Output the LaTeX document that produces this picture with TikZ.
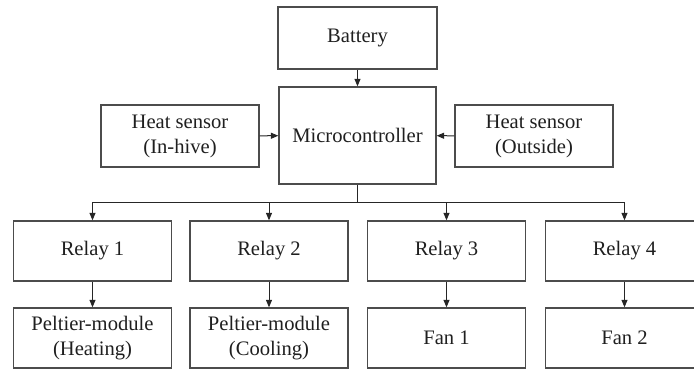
\documentclass[tikz,border=0pt]{standalone}
\usepackage{fontspec}
\setmainfont{Liberation Serif}
\usetikzlibrary{arrows.meta}
\begin{document}
\begin{tikzpicture}[x=1pt,y=-1pt,
  box/.style={draw=black!70, line width=1.3pt, inner sep=0pt, align=center,
    text=black!88, font=\fontsize{20.6}{25}\selectfont},
  wide/.style={box, minimum width=158pt, minimum height=61pt},
  conn/.style={draw=black!85, line width=1pt},
  arr/.style={conn, -{Triangle[length=7.5pt,width=6pt]}}]
\useasboundingbox (0,0) rectangle (694,371);
\clip (0,0) rectangle (694,371);
\node[box, minimum width=159pt, minimum height=62pt] (bat) at (357.5,38) {Battery};
\node[box, minimum width=157pt, minimum height=97pt] (mc) at (357.5,135.5) {Microcontroller};
\node[wide, minimum height=62pt] (hin) at (180,136) {Heat sensor\\(In-hive)};
\node[wide, minimum height=62pt] (hout) at (534,136) {Heat sensor\\(Outside)};
\node[wide, minimum height=60pt] (r1) at (92.5,251) {Relay 1};
\node[wide, minimum height=60pt] (r2) at (269,251) {Relay 2};
\node[wide, minimum height=60pt] (r3) at (446.5,251) {Relay 3};
\node[wide, minimum height=60pt] (r4) at (624.5,251) {Relay 4};
\node[wide, minimum height=60pt] (p1) at (92.5,338) {Peltier-module\\(Heating)};
\node[wide, minimum height=60pt] (p2) at (269,338) {Peltier-module\\(Cooling)};
\node[wide, minimum height=60pt] (f1) at (446.5,338) {Fan 1};
\node[wide, minimum height=60pt] (f2) at (624.5,338) {Fan 2};
\coordinate (bus) at (357.5,203);
\draw[arr] (bat) -- (mc);
\draw[arr] (hin) -- (mc);
\draw[arr] (hout) -- (mc);
\draw[conn] (mc.south) -- (bus);
\draw[arr] (bus) -| (r1.north);
\draw[arr] (bus) -| (r2.north);
\draw[arr] (bus) -| (r3.north);
\draw[arr] (bus) -| (r4.north);
\draw[arr] (r1) -- (p1);
\draw[arr] (r2) -- (p2);
\draw[arr] (r3) -- (f1);
\draw[arr] (r4) -- (f2);
\end{tikzpicture}
\end{document}
